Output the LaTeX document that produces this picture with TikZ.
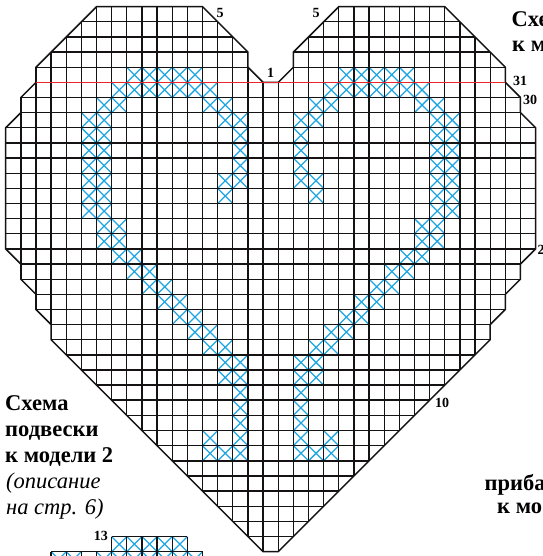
\documentclass[tikz,border=0pt]{standalone}
\usepackage{fontspec}
\setmainfont{Liberation Serif}
\definecolor{gridc}{HTML}{141213}
\definecolor{xblue}{HTML}{1EA6E2}
\definecolor{redl}{HTML}{E8262C}
\begin{document}
\begin{tikzpicture}[x=1pt,y=1pt,
  gridline/.style={line width=1.35pt, draw=gridc},
  outline/.style={line width=1.5pt, draw=gridc, line join=miter},
  xmark/.style={line width=1.25pt, draw=xblue},
  redline/.style={line width=1.7pt, draw=redl},
  num/.style={font=\bfseries\fontsize{14}{14}\selectfont, inner sep=0pt},
  titletext/.style={font=\bfseries\fontsize{22.5}{26}\selectfont, inner sep=0pt, anchor=base west},
  notetext/.style={font=\itshape\fontsize{22.5}{26}\selectfont, inner sep=0pt, anchor=base west}]
\useasboundingbox (0,-556) rectangle (542,0);
\clip (0,-556) rectangle (542,0);
\fill[white] (0,-556) rectangle (542,0);
\begin{scope}[shift={(5.7,-551.7)}, x=15.14pt, y=15.14pt]
  % blue crosses (left half, mirrored to the right)
  \foreach \t/\cols in {4/{8,9,10,11,12}, 5/{7,8,9,10,11,12,13}, 6/{6,7,13,14},
      7/{5,6,14,15}, 8/{5,6,15}, 9/{5,6,15}, 10/{5,6,15}, 11/{5,6,14,15},
      12/{5,6,14}, 13/{5,6}, 14/{6,7}, 15/{6,7}, 16/{7,8}, 17/{8,9},
      18/{9,10}, 19/{10,11}, 20/{11,12}, 21/{12,13}, 22/{13,14},
      23/{14,15}, 24/{14,15}, 25/{15}, 26/{15}, 27/{15}, 28/{13,15}, 29/{13,14,15}} {
    \pgfmathtruncatemacro\rr{35-\t}
    \foreach \c in \cols {
      \pgfmathtruncatemacro\m{34-\c}
      \draw[xmark] (\c,\rr) -- ++(1,1) (\c,\rr+1) -- ++(1,-1);
      \draw[xmark] (\m,\rr) -- ++(1,1) (\m,\rr+1) -- ++(1,-1);
    }
  }
  % grid clipped to the heart
  \begin{scope}
    \clip (17,0) -- (18,0) -- (32,14) -- (32,15) -- (33,16) -- (33,17) -- (34,18) -- (34,19)
      -- (35,20) -- (35,28) -- (34,29) -- (34,30) -- (33,31) -- (33,32) -- (29,36) -- (22,36)
      -- (19,33) -- (19,32) -- (18,31) -- (17,31) -- (16,32) -- (16,33) -- (13,36) -- (6,36)
      -- (2,32) -- (2,31) -- (1,30) -- (1,29) -- (0,28) -- (0,20) -- (1,19) -- (1,18)
      -- (2,17) -- (2,16) -- (3,15) -- (3,14) -- cycle;
    \foreach \i in {0,...,35} \draw[gridline] (\i,0) -- (\i,36);
    \foreach \j in {0,...,36} \draw[gridline] (0,\j) -- (35,\j);
    \draw[gridline, line width=1.7pt] (0,10) -- (35,10);
  \end{scope}
  \draw[outline] (17,0) -- (18,0) -- (32,14) -- (32,15) -- (33,16) -- (33,17) -- (34,18) -- (34,19)
      -- (35,20) -- (35,28) -- (34,29) -- (34,30) -- (33,31) -- (33,32) -- (29,36) -- (22,36)
      -- (19,33) -- (19,32) -- (18,31) -- (17,31) -- (16,32) -- (16,33) -- (13,36) -- (6,36)
      -- (2,32) -- (2,31) -- (1,30) -- (1,29) -- (0,28) -- (0,20) -- (1,19) -- (1,18)
      -- (2,17) -- (2,16) -- (3,15) -- (3,14) -- cycle;
  \coordinate (redL) at (2,31);
  \coordinate (redR) at (33,31);
  \draw[redline] (redL) -- (redR);
  % small pendant chart at the bottom left
  \foreach \c in {7,...,11} \draw[xmark] (\c,0) -- ++(1,1) (\c,1) -- ++(1,-1);
  \foreach \c in {3,4,6,7,8,9,10,11,12} \draw[xmark] (\c,-1) -- ++(1,1) (\c,0) -- ++(1,-1);
  \foreach \i in {7,...,12} \draw[gridline] (\i,0) -- (\i,1);
  \draw[gridline] (7,1) -- (12,1);
  \draw[gridline] (3,0) -- (13,0);
  \foreach \i in {3,...,13} \draw[gridline] (\i,-1) -- (\i,0);
\end{scope}
% row / stitch numbers
\node[num, anchor=base] (n5a) at (220,-18) {5};
\node[num, anchor=base] (n5b) at (316,-18) {5};
\node[num, anchor=base] (n1) at (270.7,-78) {1};
\node[num, anchor=base west] (n31) at (513,-86) {31};
\node[num, anchor=base west] (n30) at (523,-105) {30};
\node[num, anchor=base west] (n20) at (537.5,-254) {2};
\node[num, anchor=base west] (n10) at (435,-407) {10};
\node[num, anchor=base east] (n13) at (108,-540) {13};
% captions
\node[titletext] (t1) at (5,-410.5) {Схема};
\node[titletext] (t2) at (5,-436.5) {подвески};
\node[titletext] (t3) at (5,-462) {к модели 2};
\node[notetext] (t4) at (6,-488.3) {(описание};
\node[notetext] (t5) at (6,-514.5) {на стр. 6)};
\node[titletext] (r1) at (511.5,-26.7) {Схе};
\node[titletext] (r2) at (512,-51.7) {к м};
\node[titletext] (b1) at (484.5,-490.5) {приба};
\node[titletext] (b2) at (497,-513.3) {к мо};
\end{tikzpicture}
\end{document}
